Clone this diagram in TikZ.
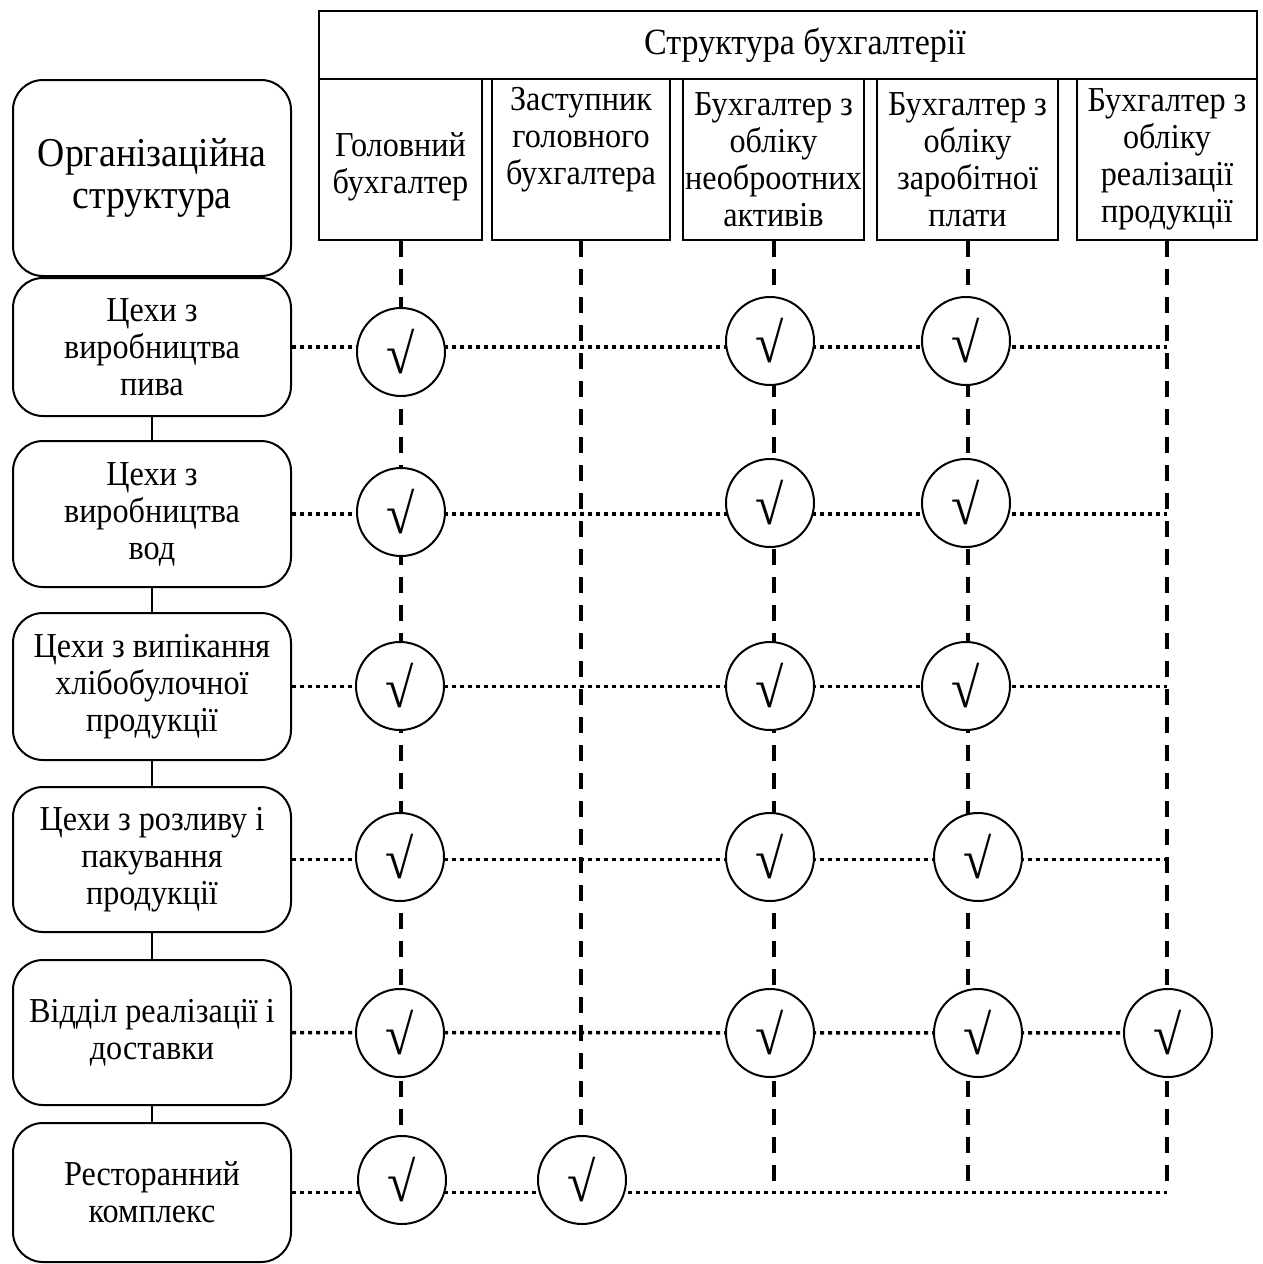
\documentclass[tikz,border=0pt]{standalone}
\usepackage{fontspec}
\setmainfont{Liberation Serif}[FakeStretch=0.92]
\usetikzlibrary{backgrounds}
\begin{document}
\begin{tikzpicture}[x=1pt,y=-1pt,
  box/.style={draw, line width=2pt, align=center, inner sep=0pt, font=\fontsize{35}{37}\selectfont},
  rbox/.style={box, rounded corners=30pt, minimum width=278pt},
  chk/.style={circle, draw, fill=white, line width=2pt, minimum size=88pt, inner sep=0pt, font=\fontsize{56}{56}\selectfont},
  vdash/.style={line width=4pt, dash pattern=on 16pt off 12pt},
  hdot/.style={line width=3.5pt, dash pattern=on 4pt off 4pt},
  link/.style={line width=2pt}]
\useasboundingbox (0,0) rectangle (1262,1264);
% header
\node[box, minimum width=938pt, minimum height=68pt, font=\fontsize{37}{40}\selectfont] (hdr) at (788,45) {\hspace*{34pt}Структура бухгалтерії};
\node[box, minimum width=163pt, minimum height=161pt] (h1) at (400.5,159.5) {\raisebox{-8pt}[\height][\depth]{\begin{tabular}{@{}c@{}}Головний\\бухгалтер\end{tabular}}};
\node[box, minimum width=178pt, minimum height=161pt] (h2) at (581,159.5) {Заступник\\головного\\бухгалтера\\\strut};
\node[box, minimum width=181pt, minimum height=161pt] (h3) at (773.5,159.5) {Бухгалтер з\\обліку\\необроотних\\активів};
\node[box, minimum width=181pt, minimum height=161pt] (h4) at (967.5,159.5) {Бухгалтер з\\обліку\\заробітної\\плати};
\node[box, minimum width=180pt, minimum height=161pt] (h5) at (1167,159.5) {Бухгалтер з\\обліку\\реалізації\\продукції};
% left column
\node[rbox, minimum height=196pt, font=\fontsize{41}{42}\selectfont] (org) at (152,178) {Організаційна\\структура};
\node[rbox, minimum height=138pt] (r1) at (152,347) {Цехи з\\виробництва\\пива};
\node[rbox, minimum height=146pt] (r2) at (152,514) {Цехи з\\виробництва\\вод};
\node[rbox, minimum height=147pt] (r3) at (152,686.5) {Цехи з випікання\\хлібобулочної\\продукції};
\node[rbox, minimum height=145pt] (r4) at (152,859.5) {Цехи з розливу і\\пакування\\продукції};
\node[rbox, minimum height=145pt] (r5) at (152,1032.5) {Відділ реалізації і\\доставки};
\node[rbox, minimum height=139pt] (r6) at (152,1192.5) {Ресторанний\\комплекс};
% check circles
\node[chk] (k11) at (401,352) {√};
\node[chk] (k13) at (770,341) {√};
\node[chk] (k14) at (966,341) {√};
\node[chk] (k21) at (401,512) {√};
\node[chk] (k23) at (770,503) {√};
\node[chk] (k24) at (966,503) {√};
\node[chk] (k31) at (400,686) {√};
\node[chk] (k33) at (770,686) {√};
\node[chk] (k34) at (966,686) {√};
\node[chk] (k41) at (400,857) {√};
\node[chk] (k43) at (770,857) {√};
\node[chk] (k44) at (978,857) {√};
\node[chk] (k51) at (400,1033) {√};
\node[chk] (k53) at (770,1033) {√};
\node[chk] (k54) at (978,1033) {√};
\node[chk] (k55) at (1168,1033) {√};
\node[chk] (k61) at (402,1180) {√};
\node[chk] (k62) at (582,1180) {√};
\begin{pgfonlayer}{background}
  % solid links between left boxes
  \draw[link] (org.south) -- (r1.north);
  \draw[link] (r1.south) -- (r2.north);
  \draw[link] (r2.south) -- (r3.north);
  \draw[link] (r3.south) -- (r4.north);
  \draw[link] (r4.south) -- (r5.north);
  \draw[link] (r5.south) -- (r6.north);
  % vertical dashed
  \draw[vdash] (h1.south) -- (h1.south |- k61.north);
  \draw[vdash] (h2.south) -- (h2.south |- k62.north);
  \draw[vdash] (h3.south) -- (h3.south |- r6.east);
  \draw[vdash] (h4.south) -- (h4.south |- r6.east);
  \draw[vdash] (h5.south) -- (h5.south |- r6.east);
  % horizontal dotted
  \draw[hdot] (r1.east) -- (r1.east -| h5.south);
  \draw[hdot] (r2.east) -- (r2.east -| h5.south);
  \draw[hdot] (r3.east) -- (r3.east -| h5.south);
  \draw[hdot] (r4.east) -- (r4.east -| h5.south);
  \draw[hdot] (r5.east) -- (k55.center);
  \draw[hdot] (r6.east) -- (r6.east -| h5.south);
\end{pgfonlayer}
\end{tikzpicture}
\end{document}
